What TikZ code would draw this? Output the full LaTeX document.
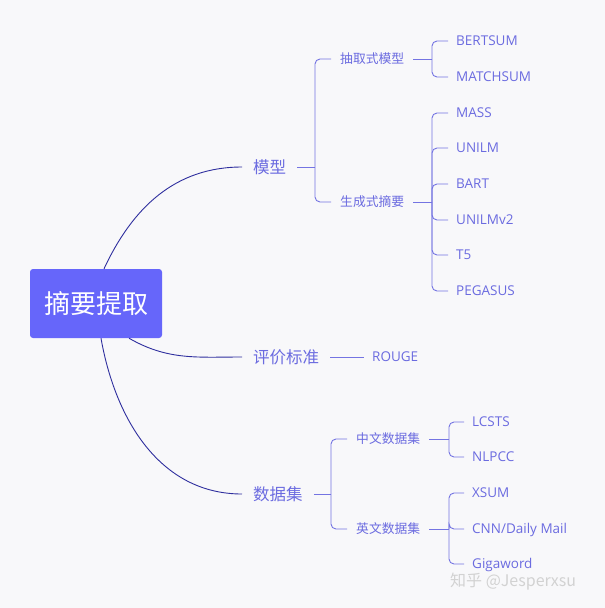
\documentclass[tikz,border=0pt]{standalone}
\usepackage{fontspec}
\setmainfont{Open Sans}
\newfontfamily\cjk{Noto Sans CJK SC}
\usetikzlibrary{positioning}

\definecolor{rootfill}{HTML}{6666FA}
\definecolor{topictext}{HTML}{6B6BE0}
\definecolor{trunkcol}{HTML}{2E2E9E}
\definecolor{twigcol}{HTML}{7474E2}
\definecolor{paper}{HTML}{F8F8FA}
\definecolor{marktext}{HTML}{D2D2D2}

\tikzset{
  rootbox/.style={fill=rootfill, text=white, rounded corners=3pt, inner sep=0pt,
    minimum width=132pt, minimum height=69pt, text height=19.8pt, text depth=0pt,
    font=\cjk\fontsize{26}{26}\selectfont},
  topic/.style={text=topictext, anchor=west, inner xsep=11pt, inner ysep=0pt,
    text height=12.6pt, text depth=0pt, font=\cjk\fontsize{16.5}{17}\selectfont},
  subtopic/.style={text=topictext, anchor=west, inner xsep=9pt, inner ysep=0pt,
    text height=9.7pt, text depth=0pt, font=\cjk\fontsize{12.8}{13}\selectfont},
  leaf/.style={text=topictext, anchor=west, inner xsep=8pt, inner ysep=0pt,
    text height=9.6pt, text depth=0pt, font=\fontsize{13.5}{14}\selectfont},
  trunkline/.style={draw=trunkcol, line width=0.9pt},
  twigline/.style={draw=twigcol, line width=0.9pt, rounded corners=5pt},
}

\begin{document}
\begin{tikzpicture}[x=1pt,y=-1pt]
    \fill[paper] (0,0) rectangle (605,608);
    \useasboundingbox (0,0) rectangle (605,608);

    % centre
    \node[rootbox] (root) at (96,303.5) {摘要提取};

    % first level
    \node[topic] (model) at (242,167) {模型};
    \node[topic] (eval) at (242,357) {评价标准};
    \node[topic] (data) at (242,494) {数据集};

    \draw[trunkline] ([xshift=8pt]root.north) to[out=65,in=180] (model.west);
    \draw[trunkline] ([xshift=33pt]root.south) to[out=-30,in=180] (eval.west);
    \draw[trunkline] ([xshift=5pt]root.south) to[out=-80,in=180] (data.west);

    % 模型
    \node[subtopic] (extr) at (331,59) {抽取式模型};
    \node[subtopic] (gen) at (331,202) {生成式摘要};
    \coordinate (mj) at ([xshift=-16pt]extr.west |- model.east);
    \draw[twigline] (model.east) -- (mj);
    \foreach \kid in {extr,gen}
        \draw[twigline] (mj) |- (\kid.west);

    \foreach \y/\nm/\txt in {41/bertsum/BERTSUM, 77/matchsum/MATCHSUM} {
        \node[leaf] (\nm) at (448,\y) {\txt};
    }
    \coordinate (ej) at ([xshift=-16pt]bertsum.west |- extr.east);
    \draw[twigline] (extr.east) -- (ej);
    \foreach \kid in {bertsum,matchsum}
        \draw[twigline] (ej) |- (\kid.west);

    \foreach \y/\nm/\txt in {
        113/mass/MASS,
        148/unilm/UNILM,
        184/bart/BART,
        220/unilmv/UNILMv2,
        255/tfive/T5,
        291/pegasus/PEGASUS} {
        \node[leaf] (\nm) at (448,\y) {\txt};
    }
    \coordinate (gj) at ([xshift=-16pt]mass.west |- gen.east);
    \draw[twigline] (gen.east) -- (gj);
    \foreach \kid in {mass,unilm,bart,unilmv,tfive,pegasus}
        \draw[twigline] (gj) |- (\kid.west);

    % 评价标准
    \node[leaf] (rouge) at (364,357) {ROUGE};
    \draw[twigline] (eval.east) -- (rouge.west);

    % 数据集
    \node[subtopic] (zh) at (347,439) {中文数据集};
    \node[subtopic] (en) at (347,529) {英文数据集};
    \coordinate (dj) at ([xshift=-16pt]zh.west |- data.east);
    \draw[twigline] (data.east) -- (dj);
    \foreach \kid in {zh,en}
        \draw[twigline] (dj) |- (\kid.west);

    \foreach \y/\nm/\txt in {422/lcsts/LCSTS, 457/nlpcc/NLPCC} {
        \node[leaf] (\nm) at (464,\y) {\txt};
    }
    \coordinate (zj) at ([xshift=-15pt]lcsts.west |- zh.east);
    \draw[twigline] (zh.east) -- (zj);
    \foreach \kid in {lcsts,nlpcc}
        \draw[twigline] (zj) |- (\kid.west);

    \foreach \y/\nm/\txt in {493/xsum/XSUM, 529/cnn/{CNN/Daily Mail}, 564/giga/Gigaword} {
        \node[leaf] (\nm) at (464,\y) {\txt};
    }
    \coordinate (nj) at ([xshift=-15pt]xsum.west |- en.east);
    \draw[twigline] (en.east) -- (nj);
    \foreach \kid in {xsum,cnn,giga}
        \draw[twigline] (nj) |- (\kid.west);

    % watermark
    \node[anchor=west, inner sep=0pt, text=marktext, font=\cjk\fontsize{16}{16}\selectfont]
        (mark) at (450,582) {知乎 @Jesperxsu};
\end{tikzpicture}
\end{document}
